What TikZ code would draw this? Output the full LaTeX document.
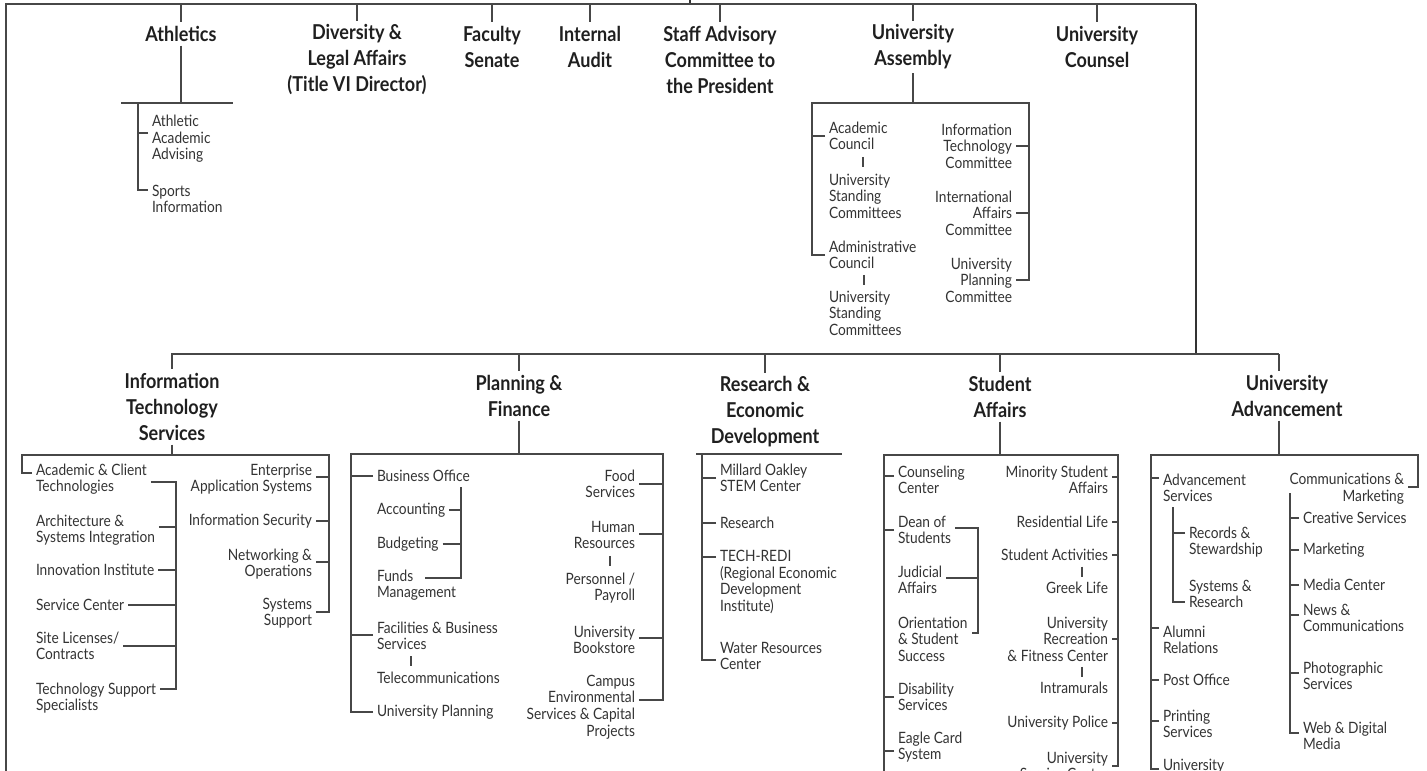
\documentclass[tikz,border=0pt]{standalone}
\usepackage{fontspec}
\setmainfont{Lato}[FakeStretch=0.88]
\usetikzlibrary{calc}
\tikzset{
    org_head/.style={
        font=\bfseries\fontsize{20.5}{26}\selectfont,
        text=black!88,
        align=center,
        inner sep=0pt,
        outer sep=4pt
    },
    org_unit/.style={
        font=\fontsize{15.6}{16.6}\selectfont,
        text=black!80,
        inner sep=0pt,
        outer xsep=4pt,
        outer ysep=3pt
    },
    org_left/.style={org_unit, anchor=west, align=left},
    org_right/.style={org_unit, anchor=east, align=right},
    org_link/.style={draw=black!72, line width=1.1pt},
    org_frame/.style={draw=black!80, line width=1.8pt}
}

\begin{document}
\begin{tikzpicture}[x=1pt, y=-1pt]
\useasboundingbox (0,0) rectangle (1427,771);
\clip (0,0) rectangle (1427,771);

% Frame from the president
\coordinate (President) at (690,0);
\coordinate (TopBar) at (690,4);
\coordinate (FrameLeft) at (6,4);
\coordinate (FrameBottom) at (6,780);
\coordinate (FrameRight) at (1196,4);
\coordinate (DivLeft) at (171,354);
\coordinate (DivRight) at (1279,354);

% Offices on the top bar
\node[org_head] (Athletics) at (181,34) {Athletics};
\node[org_head] (Diversity) at (357,60) {Diversity \&\\Legal Affairs\\(Title VI Director)};
\node[org_head] (FacultySenate) at (492,47) {Faculty\\Senate};
\node[org_head] (InternalAudit) at (590,47) {Internal\\Audit};
\node[org_head] (StaffAdvisory) at (720,60) {Staff Advisory\\Committee to\\the President};
\node[org_head] (UnivAssembly) at (913,47) {University\\Assembly};
\node[org_head] (UnivCounsel) at (1097,47) {University\\Counsel};

% Athletics
\node[org_left] (AthAdvising) at (148,139) {Athletic\\Academic\\Advising};
\node[org_left] (SportsInfo) at (148,199) {Sports\\Information};
\coordinate (AthBarL) at (121,103);
\coordinate (AthBarR) at (233,103);
\coordinate (AthBus) at (138,103);

% University Assembly
\node[org_left] (AcadCouncil) at (825,136) {Academic\\Council};
\node[org_left] (AcadStanding) at (825,196) {University\\Standing\\Committees};
\node[org_left] (AdminCouncil) at (825,255) {Administrative\\Council};
\node[org_left] (AdminStanding) at (825,313) {University\\Standing\\Committees};
\node[org_right] (ITCommittee) at (1016,146) {Information\\Technology\\Committee};
\node[org_right] (IntlAffairs) at (1016,213) {International\\Affairs\\Committee};
\node[org_right] (UnivPlanCommittee) at (1016,280) {University\\Planning\\Committee};
\coordinate (UABoxL) at (812,103);
\coordinate (UABoxR) at (1029,103);

% Divisions
\node[org_head] (ITS) at (172,407) {Information\\Technology\\Services};
\node[org_head] (PlanFinance) at (519,396) {Planning \&\\Finance};
\node[org_head] (ResearchED) at (765,412) {Research \&\\Economic\\Development};
\node[org_head] (StudentAffairs) at (1000,397) {Student\\Affairs};
\node[org_head] (UnivAdvancement) at (1287,396) {University\\Advancement};

% Information Technology Services
\node[org_left] (AcadClient) at (32,479) {Academic \& Client\\Technologies};
\node[org_left] (ArchSys) at (32,530) {Architecture \&\\Systems Integration};
\node[org_left] (Innovation) at (32,570) {Innovation Institute};
\node[org_left] (ServiceCenter) at (32,605) {Service Center};
\node[org_left] (SiteLicenses) at (32,646) {Site Licenses/\\Contracts};
\node[org_left] (TechSupport) at (32,698) {Technology Support\\Specialists};
\node[org_right] (EnterpriseApp) at (316,479) {Enterprise\\Application Systems};
\node[org_right] (InfoSecurity) at (316,521) {Information Security};
\node[org_right] (Networking) at (316,564) {Networking \&\\Operations};
\node[org_right] (SystemsSupport) at (316,613) {Systems\\Support};
\coordinate (ITSBarL) at (22,455);
\coordinate (ITSBarR) at (329,455);
\coordinate (ITSInnerBus) at (176,482);

% Planning & Finance
\node[org_left] (BusinessOffice) at (373,476) {Business Office};
\node[org_left] (Accounting) at (373,510) {Accounting};
\node[org_left] (Budgeting) at (373,544) {Budgeting};
\node[org_left] (FundsMgmt) at (373,585) {Funds\\Management};
\node[org_left] (Facilities) at (373,636) {Facilities \& Business\\Services};
\node[org_left] (Telecom) at (373,678) {Telecommunications};
\node[org_left] (UnivPlanning) at (373,712) {University Planning};
\node[org_right] (FoodServices) at (639,484) {Food\\Services};
\node[org_right] (HumanResources) at (639,535) {Human\\Resources};
\node[org_right] (Personnel) at (639,588) {Personnel /\\Payroll};
\node[org_right] (Bookstore) at (639,640) {University\\Bookstore};
\node[org_right] (CampusEnv) at (639,707) {Campus\\Environmental\\Services \& Capital\\Projects};
\coordinate (PFBarL) at (351,454);
\coordinate (PFBarR) at (663,454);
\coordinate (PFInnerBus) at (461,487);

% Research & Economic Development
\node[org_left] (Millard) at (716,478) {Millard Oakley\\STEM Center};
\node[org_left] (Research) at (716,523) {Research};
\node[org_left] (TechRedi) at (716,582) {TECH-REDI\\(Regional Economic\\Development\\Institute)};
\node[org_left] (WaterResources) at (716,656) {Water Resources\\Center};
\coordinate (REDBarL) at (696,454);
\coordinate (REDBarR) at (842,454);
\coordinate (REDBus) at (702,454);

% Student Affairs
\node[org_left] (Counseling) at (894,480) {Counseling\\Center};
\node[org_left] (DeanStudents) at (894,530) {Dean of\\Students};
\node[org_left] (Judicial) at (894,580) {Judicial\\Affairs};
\node[org_left] (Orientation) at (894,639) {Orientation\\\& Student\\Success};
\node[org_left] (Disability) at (894,697) {Disability\\Services};
\node[org_left] (EagleCard) at (894,747) {Eagle Card\\System};
\node[org_right] (MinorityAffairs) at (1112,480) {Minority Student\\Affairs};
\node[org_right] (ResidentialLife) at (1112,522) {Residential Life};
\node[org_right] (StudentActivities) at (1112,555) {Student Activities};
\node[org_right] (GreekLife) at (1112,588) {Greek Life};
\node[org_right] (Recreation) at (1112,639) {University\\Recreation\\\& Fitness Center};
\node[org_right] (Intramurals) at (1112,688) {Intramurals};
\node[org_right] (UnivPolice) at (1112,723) {University Police};
\node[org_right] (UnivServiceCenter) at (1112,766) {University\\Service Center};
\coordinate (SABarL) at (884,455);
\coordinate (SABarR) at (1118,455);
\coordinate (SABottom) at (884,780);
\coordinate (SAInnerBus) at (978,528);

% University Advancement
\node[org_left] (AdvServices) at (1159,488) {Advancement\\Services};
\node[org_left] (Records) at (1185,542) {Records \&\\Stewardship};
\node[org_left] (SystemsResearch) at (1185,594) {Systems \&\\Research};
\node[org_left] (Alumni) at (1159,640) {Alumni\\Relations};
\node[org_left] (PostOffice) at (1159,680) {Post Office};
\node[org_left] (Printing) at (1159,724) {Printing\\Services};
\node[org_left] (UnivBottom) at (1159,766) {University};
\node[org_right] (CommMarketing) at (1408,489) {Communications \&\\Marketing};
\node[org_left] (Creative) at (1299,518) {Creative Services};
\node[org_left] (Marketing) at (1299,550) {Marketing};
\node[org_left] (MediaCenter) at (1299,585) {Media Center};
\node[org_left] (News) at (1299,618) {News \&\\Communications};
\node[org_left] (Photographic) at (1299,676) {Photographic\\Services};
\node[org_left] (WebDigital) at (1299,736) {Web \& Digital\\Media};
\coordinate (AdvBarL) at (1151,455);
\coordinate (AdvBarR) at (1418,455);
\coordinate (AdvInnerBus) at (1173,507);
\coordinate (CommBus) at (1290,493);

% Frame lines
\draw[org_frame] (President) -- (TopBar);
\draw[org_link] (FrameBottom) -- (FrameLeft) -- (FrameRight);
\draw[org_frame] (FrameRight) -- (FrameRight |- DivLeft);
\draw[org_link] (DivLeft) -- (DivRight);

% Top bar drops
\draw[org_link] (Athletics.north |- TopBar) -- (Athletics.north);
\draw[org_link] (Diversity.north |- TopBar) -- (Diversity.north);
\draw[org_link] (FacultySenate.north |- TopBar) -- (FacultySenate.north);
\draw[org_link] (InternalAudit.north |- TopBar) -- (InternalAudit.north);
\draw[org_link] (StaffAdvisory.north |- TopBar) -- (StaffAdvisory.north);
\draw[org_link] (UnivAssembly.north |- TopBar) -- (UnivAssembly.north);
\draw[org_link] (UnivCounsel.north |- TopBar) -- (UnivCounsel.north);

% Athletics edges
\draw[org_link] (Athletics.south) -- (Athletics.south |- AthBarL);
\draw[org_link] (AthBarL) -- (AthBarR);
\draw[org_link] (AthBus) |- ([yshift=9pt]SportsInfo.west);
\draw[org_link] ([yshift=6pt]AthAdvising.west) -- ([yshift=6pt]AthAdvising.west -| AthBus);

% Assembly edges
\draw[org_link] (UnivAssembly.south) -- (UnivAssembly.south |- UABoxL);
\draw[org_link] (AdminCouncil.west) -| (UABoxL) -- (UABoxR) |- (UnivPlanCommittee.east);
\draw[org_link] (AcadCouncil.west) -- (AcadCouncil.west -| UABoxL);
\draw[org_link] (ITCommittee.east) -- (ITCommittee.east -| UABoxR);
\draw[org_link] (IntlAffairs.east) -- (IntlAffairs.east -| UABoxR);
\draw[org_link] ($(AcadCouncil.south west)!.5!(AcadStanding.north west)$) ++(38,-5) -- ++(0,10);
\draw[org_link] ($(AdminCouncil.south west)!.5!(AdminStanding.north west)$) ++(39,-5) -- ++(0,10);

% Division drops
\draw[org_link] (ITS.north |- DivLeft) -- (ITS.north);
\draw[org_link] (PlanFinance.north |- DivLeft) -- (PlanFinance.north);
\draw[org_link] (ResearchED.north |- DivLeft) -- (ResearchED.north);
\draw[org_link] (StudentAffairs.north |- DivLeft) -- (StudentAffairs.north);
\draw[org_link] (DivRight) -- (DivRight |- UnivAdvancement.north);

% ITS edges
\draw[org_link] (ITS.south) -- (ITS.south |- ITSBarL);
\draw[org_link] ([yshift=6pt]AcadClient.west) -| (ITSBarL) -- (ITSBarR) |- ([yshift=1pt]SystemsSupport.east);
\draw[org_link] ([yshift=2pt]EnterpriseApp.east) -- ([yshift=2pt]EnterpriseApp.east -| ITSBarR);
\draw[org_link] (InfoSecurity.east) -- (InfoSecurity.east -| ITSBarR);
\draw[org_link] ([yshift=2pt]Networking.east) -- ([yshift=2pt]Networking.east -| ITSBarR);
\draw[org_link] (AcadClient.east |- ITSInnerBus) -- (ITSInnerBus) |- ([yshift=9pt]TechSupport.east);
\draw[org_link] ([yshift=3pt]ArchSys.east) -- ([yshift=3pt]ArchSys.east -| ITSInnerBus);
\draw[org_link] (Innovation.east) -- (Innovation.east -| ITSInnerBus);
\draw[org_link] (ServiceCenter.east) -- (ServiceCenter.east -| ITSInnerBus);
\draw[org_link] (SiteLicenses.east) -- (SiteLicenses.east -| ITSInnerBus);

% Planning & Finance edges
\draw[org_link] (PlanFinance.south) -- (PlanFinance.south |- PFBarL);
\draw[org_link] (UnivPlanning.west) -| (PFBarL) -- (PFBarR) |- ([yshift=7pt]CampusEnv.east);
\draw[org_link] (BusinessOffice.west) -- (BusinessOffice.west -| PFBarL);
\draw[org_link] ([yshift=1pt]Facilities.west) -- ([yshift=1pt]Facilities.west -| PFBarL);
\draw[org_link] (PFInnerBus) |- ([shift={(52,-7)}]FundsMgmt.west);
\draw[org_link] (Accounting.east) -- (Accounting.east -| PFInnerBus);
\draw[org_link] (Budgeting.east) -- (Budgeting.east -| PFInnerBus);
\draw[org_link] (FoodServices.east) -- (FoodServices.east -| PFBarR);
\draw[org_link] ([yshift=1pt]HumanResources.east) -- ([yshift=1pt]HumanResources.east -| PFBarR);
\draw[org_link] ([yshift=2pt]Bookstore.east) -- ([yshift=2pt]Bookstore.east -| PFBarR);
\draw[org_link] ($(Facilities.south west)!.5!(Telecom.north west)$) ++(38,-5) -- ++(0,10);
\draw[org_link] ($(HumanResources.south east)!.5!(Personnel.north east)$) ++(-29,-5) -- ++(0,10);

% Research edges
\draw[org_link] (REDBarL) -- (REDBarR);
\draw[org_link] (REDBus) |- ([yshift=-4pt]WaterResources.west);
\draw[org_link] (Millard.west) -- (Millard.west -| REDBus);
\draw[org_link] (Research.west) -- (Research.west -| REDBus);
\draw[org_link] ([yshift=25pt]TechRedi.west) -- ([yshift=25pt]TechRedi.west -| REDBus);

% Student Affairs edges
\draw[org_link] (StudentAffairs.south) -- (StudentAffairs.south |- SABarL);
\draw[org_link] (SABottom) -- (SABarL) -- (SABarR) |- (UnivServiceCenter.east);
\draw[org_link] ([yshift=4pt]Counseling.west) -- ([yshift=4pt]Counseling.west -| SABarL);
\draw[org_link] (DeanStudents.west) -- (DeanStudents.west -| SABarL);
\draw[org_link] (Disability.west) -- (Disability.west -| SABarL);
\draw[org_link] ([yshift=-4pt]EagleCard.west) -- ([yshift=-4pt]EagleCard.west -| SABarL);
\draw[org_link] (DeanStudents.east |- SAInnerBus) -- (SAInnerBus) |- ([yshift=6pt]Orientation.east);
\draw[org_link] ([yshift=2pt]Judicial.east) -- ([yshift=2pt]Judicial.east -| SAInnerBus);
\draw[org_link] ([yshift=3pt]MinorityAffairs.east) -- ([yshift=3pt]MinorityAffairs.east -| SABarR);
\draw[org_link] (ResidentialLife.east) -- (ResidentialLife.east -| SABarR);
\draw[org_link] (StudentActivities.east) -- (StudentActivities.east -| SABarR);
\draw[org_link] (Recreation.east) -- (Recreation.east -| SABarR);
\draw[org_link] (UnivPolice.east) -- (UnivPolice.east -| SABarR);
\draw[org_link] ($(StudentActivities.south east)!.5!(GreekLife.north east)$) ++(-30,-5) -- ++(0,10);
\draw[org_link] ($(Recreation.south east)!.5!(Intramurals.north east)$) ++(-30,-5) -- ++(0,10);

% Advancement edges
\draw[org_link] (UnivAdvancement.south -| DivRight) -- (AdvBarL -| DivRight);
\draw[org_link] ([yshift=-3pt]UnivBottom.west) -| (AdvBarL) -- (AdvBarR) |- ([yshift=2pt]CommMarketing.east);
\draw[org_link] ([yshift=10pt]AdvServices.west) -- ([yshift=10pt]AdvServices.west -| AdvBarL);
\draw[org_link] ([yshift=12pt]Alumni.west) -- ([yshift=12pt]Alumni.west -| AdvBarL);
\draw[org_link] (PostOffice.west) -- (PostOffice.west -| AdvBarL);
\draw[org_link] ([yshift=3pt]Printing.west) -- ([yshift=3pt]Printing.west -| AdvBarL);
\draw[org_link] (AdvInnerBus) |- ([yshift=-8pt]SystemsResearch.west);
\draw[org_link] ([yshift=9pt]Records.west) -- ([yshift=9pt]Records.west -| AdvInnerBus);
\draw[org_link] (CommBus) |- ([yshift=3pt]WebDigital.west);
\draw[org_link] (Creative.west) -- (Creative.west -| CommBus);
\draw[org_link] (Marketing.west) -- (Marketing.west -| CommBus);
\draw[org_link] (MediaCenter.west) -- (MediaCenter.west -| CommBus);
\draw[org_link] ([yshift=3pt]News.west) -- ([yshift=3pt]News.west -| CommBus);
\draw[org_link] ([yshift=3pt]Photographic.west) -- ([yshift=3pt]Photographic.west -| CommBus);

\end{tikzpicture}
\end{document}
